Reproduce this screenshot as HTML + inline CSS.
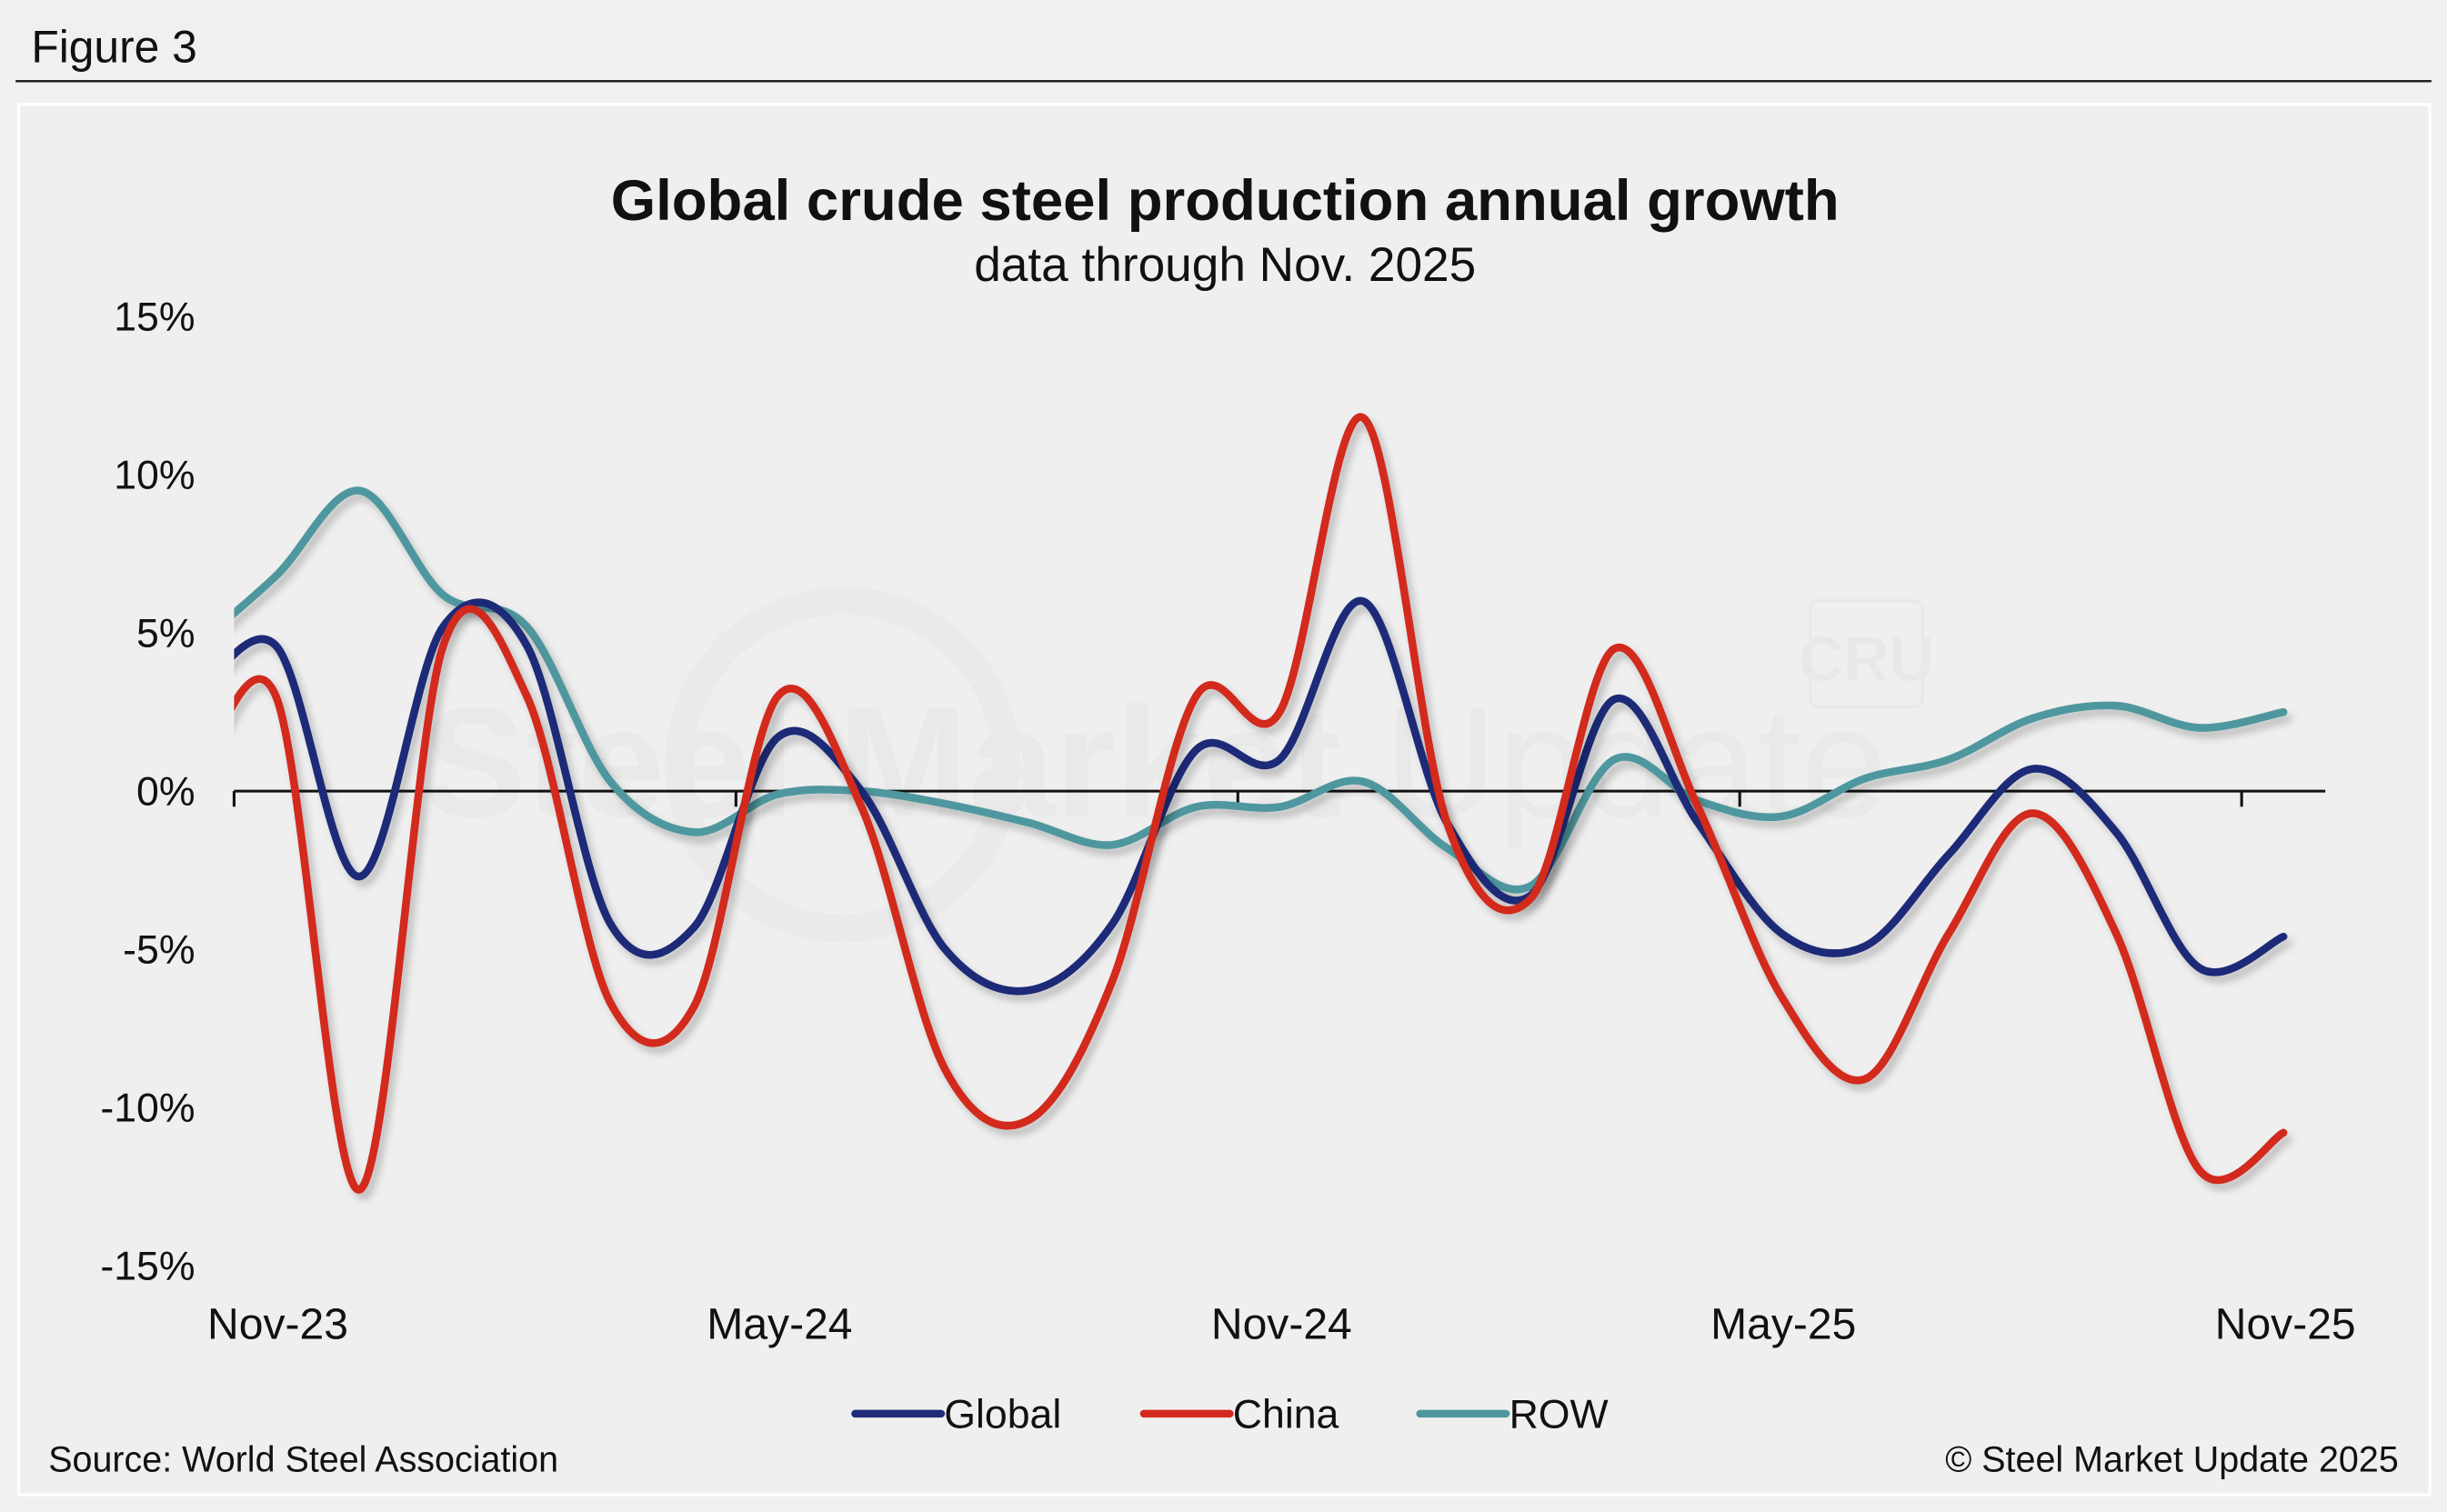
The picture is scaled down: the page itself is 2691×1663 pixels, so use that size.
<!DOCTYPE html>
<html><head><meta charset="utf-8"><style>
html,body{margin:0;padding:0;background:#f0f0f0;}
svg{display:block;font-family:"Liberation Sans",Arial,sans-serif;}
</style></head><body>
<svg id="chart" width="2691" height="1663" viewBox="0 0 1568 969" xmlns="http://www.w3.org/2000/svg">
<defs>
<filter id="sh" x="-10%" y="-10%" width="120%" height="120%"><feDropShadow dx="3" dy="4" stdDeviation="2.5" flood-color="#000" flood-opacity="0.22"/></filter>
<clipPath id="plotclip"><rect x="150" y="150" width="1400" height="720"/></clipPath>
</defs>
<rect x="0" y="0" width="1568" height="969" fill="#f0f0f0"/>
<text x="20" y="40" font-size="29" fill="#111">Figure 3</text>
<line x1="10" y1="52" x2="1558" y2="52" stroke="#222" stroke-width="1.5"/>
<rect x="12" y="67" width="1545" height="891" fill="#efefef" stroke="#fff" stroke-width="2"/>
<g opacity="0.35">
<circle cx="540" cy="490" r="105" fill="none" stroke="#e2e2e2" stroke-width="18"/>
<text x="740" y="523" text-anchor="middle" font-size="100" font-weight="bold" fill="#dedede">Steel Market <tspan font-weight="normal">Update</tspan></text>
<rect x="1160" y="385" width="72" height="68" rx="5" fill="none" stroke="#dcdcdc" stroke-width="2"/>
<text x="1196" y="436" text-anchor="middle" font-size="40" font-weight="bold" fill="#dcdcdc">CRU</text>
</g>
<text x="785" y="141" text-anchor="middle" font-size="37" font-weight="bold" fill="#111">Global crude steel production annual growth</text>
<text x="785" y="180" text-anchor="middle" font-size="31" fill="#111">data through Nov. 2025</text>
<g id="yaxis"></g>
<g id="xaxis"></g>
<g id="series" clip-path="url(#plotclip)"></g>
<g>
<g><line x1="548" y1="906" x2="603" y2="906" stroke="#1f2a78" stroke-width="5" stroke-linecap="round"/><text x="605" y="915" font-size="26" fill="#111">Global</text></g>
<g><line x1="733" y1="906" x2="788" y2="906" stroke="#d22a1f" stroke-width="5" stroke-linecap="round"/><text x="790" y="915" font-size="26" fill="#111">China</text></g>
<g><line x1="910" y1="906" x2="965" y2="906" stroke="#4f979e" stroke-width="5" stroke-linecap="round"/><text x="967" y="915" font-size="26" fill="#111">ROW</text></g>
</g>
<text x="31" y="943" font-size="23" fill="#111">Source: World Steel Association</text>
<text x="1537" y="943" text-anchor="end" font-size="23" fill="#111">© Steel Market Update 2025</text>
</svg>
<script>
const months = ["Oct-23","Nov-23","Dec-23","Jan-24","Feb-24","Mar-24","Apr-24","May-24","Jun-24","Jul-24","Aug-24","Sep-24","Oct-24","Nov-24","Dec-24","Jan-25","Feb-25","Mar-25","Apr-25","May-25","Jun-25","Jul-25","Aug-25","Sep-25","Oct-25","Nov-25"];
const globalVals = [2.8,4.6,-2.7,5.2,4.6,-4.2,-4.3,1.7,0.0,-5.0,-6.3,-4.2,1.3,1.0,6.0,-1.0,-3.3,2.9,-1.0,-4.5,-4.9,-2.0,0.7,-1.3,-5.6,-4.6];
const chinaVals = [0.0,3.0,-12.6,4.6,3.0,-6.7,-6.8,3.0,-0.5,-8.8,-10.4,-6.0,3.0,2.5,11.8,-1.0,-3.4,4.5,-0.5,-6.5,-9.1,-4.5,-0.7,-4.5,-12.0,-10.8];
const rowVals = [4.5,6.8,9.5,6.2,5.2,0.3,-1.3,-0.1,0.0,-0.4,-1.0,-1.7,-0.5,-0.5,0.3,-1.8,-3.0,1.0,-0.3,-0.8,0.4,1.0,2.3,2.7,2.0,2.5];
const yTicks = [15,10,5,0,-5,-10,-15];
const yTickLabels = ["15%","10%","5%","0%","-5%","-10%","-15%"];
const xLabels = ["Nov-23","May-24","Nov-24","May-25","Nov-25"];
const xLabelMonths = ["Nov-23","May-24","Nov-24","May-25","Nov-25"];

const NS="http://www.w3.org/2000/svg";
const X0=150, MW=53.6, Y0=507, PY=20.27;
function xScale(i){return X0+(i-0.5)*MW;}
function yScale(v){return Y0-v*PY;}
function mk(tag,attrs,parent){const e=document.createElementNS(NS,tag);for(const k in attrs)e.setAttribute(k,attrs[k]);parent.appendChild(e);return e;}

const ya=document.getElementById('yaxis');
yTicks.forEach((t,k)=>{
  const tx=mk('text',{x:125,y:yScale(t)+9,'text-anchor':'end','font-size':26,fill:'#111'},ya);
  
  
  tx.textContent=yTickLabels[k];
});
const xa=document.getElementById('xaxis');
const axl=mk('line',{x1:150,y1:Y0,x2:1490,y2:Y0,stroke:'#111','stroke-width':1.8},xa);


xLabels.forEach((l,k)=>{
  const idx=months.indexOf(xLabelMonths[k]);
  const tx0=X0+(idx-1)*MW;
  const tk=mk('line',{x1:tx0,y1:Y0,x2:tx0,y2:Y0+10,stroke:'#111','stroke-width':1.8},xa);
  
  
  const tx=mk('text',{x:tx0+28,y:858,'text-anchor':'middle','font-size':28,fill:'#111'},xa);
  
  
  tx.textContent=l;
});

function smoothPath(vals){
  const p=vals.map((v,i)=>[xScale(i),yScale(v)]);
  let d='M'+p[0][0]+','+p[0][1];
  for(let i=0;i<p.length-1;i++){
    const p0=p[Math.max(0,i-1)],p1=p[i],p2=p[i+1],p3=p[Math.min(p.length-1,i+2)];
    const t=1/6;
    const c1=[p1[0]+(p2[0]-p0[0])*t,p1[1]+(p2[1]-p0[1])*t];
    const c2=[p2[0]-(p3[0]-p1[0])*t,p2[1]-(p3[1]-p1[1])*t];
    d+=' C'+c1.join(',')+' '+c2.join(',')+' '+p2.join(',');
  }
  return d;
}
const sg=document.getElementById('series');
[[rowVals,'#4f979e','line-row'],[globalVals,'#1f2a78','line-global'],[chinaVals,'#d22a1f','line-china']].forEach(s=>{
  const path=mk('path',{d:smoothPath(s[0]),fill:'none',stroke:s[1],'stroke-width':5,'stroke-linecap':'round','stroke-linejoin':'round',filter:'url(#sh)'},sg);
  
  
});
</script>
</body></html>
